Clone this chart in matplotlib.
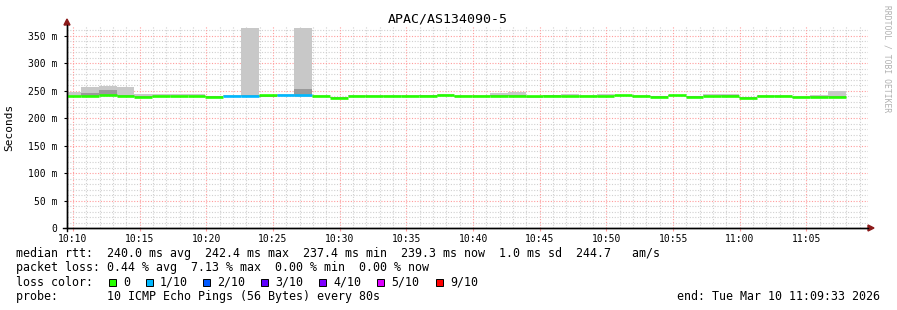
import numpy as np
import matplotlib
matplotlib.use("Agg")
import matplotlib.pyplot as plt
from matplotlib.patches import Rectangle, Polygon
from matplotlib.lines import Line2D

plt.rcParams['font.family'] = ['DejaVu Sans Mono']

# seconds after 10:10:00, one sample every 80 s (first one is partial)
t_start = -27          # 10:09:33
t_end = 3573           # 11:09:33
first_edge = 36        # 10:10:36
step = 80

# median rtt per sample (ms) and lost pings out of 10
median = [240.0, 241.0, 242.4, 240.5, 239.5, 241.0, 240.5, 241.0, 239.5, 241.0,
          240.5, 241.5, 242.0, 242.0, 241.0, 237.4, 241.0, 241.0, 240.5, 241.0,
          241.0, 241.5, 240.5, 240.5, 241.0, 241.0, 240.0, 240.5, 240.5, 240.5,
          240.5, 241.5, 241.0, 239.5, 241.5, 239.5, 240.5, 240.5, 237.6, 240.0,
          240.0, 239.5, 238.5, 239.3]
loss = [0, 0, 0, 0, 0, 0, 0, 0, 0, 1,
        1, 0, 1, 1, 0, 0, 0, 0, 0, 0,
        0, 0, 0, 0, 0, 0, 0, 0, 0, 0,
        0, 0, 0, 0, 0, 0, 0, 0, 0, 0,
        0, 0, 0, 0]
# smoke: full min..max range and the inner (darker) range
smoke_lo = [239, 239, 240, 239, 239, 239, 239, 240, 239, 240,
            239, 239, 240, 239, 240, 237, 240, 238, 238, 240,
            240, 240, 238, 239.5, 240, 240, 237, 239, 238, 239.5,
            239, 240, 238, 238, 240, 238, 239, 239, 237, 239,
            239, 237, 237, 239]
smoke_hi = [248, 256, 259, 256, 244, 245, 245, 244, 241, 242,
            365, 243, 245, 365, 242, 239, 242, 242, 242, 242,
            243, 245, 242, 242, 246, 248, 241, 243, 244, 242,
            245, 243, 242, 241, 243, 241, 244, 245, 239.5, 241.5,
            241.5, 241, 242, 249]
inner_lo = [239, 241, 243, 240, 239, 239.5, 240, 240, 239, 240,
            240, 239, 241, 240, 240, 237, 240, 238.5, 238.5, 240,
            240, 240.5, 238.5, 240, 240, 240.5, 238, 240, 239, 240,
            239.5, 240.5, 239, 238.5, 240.5, 239, 240, 240, 237, 239.5,
            239.5, 237.5, 238, 239]
inner_hi = [241, 246, 252, 242, 240, 240.5, 241, 241, 240, 241,
            242, 240.5, 243, 254, 241, 238, 241, 240, 240, 241,
            241.5, 242, 240, 241, 242, 243, 240, 242, 241, 241,
            241, 242, 240.5, 240, 242, 240, 241, 242, 238, 240.5,
            240.5, 239, 241, 241]

loss_keys = ['0', '1/10', '2/10', '3/10', '4/10', '5/10', '9/10']
loss_colors = ['#26ff00', '#00b8ff', '#0059ff', '#5e00ff', '#7e00ff', '#dd00ff', '#ff0000']
loss_map = {0: '#26ff00', 1: '#00b8ff', 2: '#0059ff', 3: '#5e00ff', 4: '#7e00ff', 5: '#dd00ff', 9: '#ff0000'}

yticks = [0, 50, 100, 150, 200, 250, 300, 350]
ytick_labels = ['0', '50 m', '100 m', '150 m', '200 m', '250 m', '300 m', '350 m']
xticks = list(range(0, 3301, 300))
xtick_labels = ['10:10', '10:15', '10:20', '10:25', '10:30', '10:35',
                '10:40', '10:45', '10:50', '10:55', '11:00', '11:05']

n = len(median)
left = np.concatenate([[t_start], first_edge + step * np.arange(n - 1)])
right = first_edge + step * np.arange(n)
width = right - left

W, H = 897, 310
fig = plt.figure(figsize=(W / 100, H / 100), dpi=100)
fig.patch.set_facecolor('white')

def fx(px):
    return px / W

def fy(py):
    return 1 - py / H

ax = fig.add_axes([fx(67), fy(228), fx(868) - fx(67), fy(26) - fy(228)])
ax.set_xlim(t_start, 3577)
ax.set_ylim(0, 368)

# grid
for t in range(0, 3577, 60):
    if t % 300 == 0:
        continue
    ax.axvline(t, color='#d0d0d0', lw=0.8, ls=(0, (1, 1.5)), zorder=0)
for v in range(10, 368, 10):
    if v % 50 == 0:
        continue
    ax.axhline(v, color='#d0d0d0', lw=0.8, ls=(0, (1, 1.5)), zorder=0)
for t in xticks:
    ax.axvline(t, color='#ff9c9c', lw=0.8, ls=(0, (1, 1.5)), zorder=0.5)
for v in yticks[1:]:
    ax.axhline(v, color='#ff9c9c', lw=0.8, ls=(0, (1, 1.5)), zorder=0.5)

# smoke
sl = np.array(smoke_lo)
sh = np.array(smoke_hi)
il = np.array(inner_lo)
ih = np.array(inner_hi)
ax.bar(left, sh - sl, width=width, bottom=sl, align='edge', color='#c8c8c8', lw=0, zorder=2)
ax.bar(left, ih - il, width=width, bottom=il, align='edge', color='#9a9a9a', lw=0, zorder=3)

# median, coloured by loss
for i in range(n):
    ax.hlines(median[i], left[i], right[i], color=loss_map[loss[i]], lw=1.9, zorder=4)

for s in ['top', 'right']:
    ax.spines[s].set_visible(False)
ax.spines['left'].set_linewidth(1)
ax.spines['bottom'].set_linewidth(1)

ax.set_yticks(yticks)
ax.set_yticklabels(ytick_labels, fontsize=7)
ax.set_xticks(xticks)
ax.set_xticklabels(xtick_labels, fontsize=7)
ax.tick_params(axis='y', length=2, pad=5)
ax.tick_params(axis='x', length=2, pad=2, color='#ff9c9c')
ax.set_ylabel('Seconds', fontsize=8, labelpad=10)

# axis arrows
fig.add_artist(Polygon([[fx(64), fy(25)], [fx(70), fy(25)], [fx(67), fy(19)]],
                       closed=True, color='#8b1a1a', transform=fig.transFigure))
fig.add_artist(Polygon([[fx(868), fy(225)], [fx(868), fy(231)], [fx(874), fy(228)]],
                       closed=True, color='#8b1a1a', transform=fig.transFigure))
fig.add_artist(Line2D([fx(67), fx(67)], [fy(231), fy(25)], color='black', lw=1))
fig.add_artist(Line2D([fx(63), fx(868)], [fy(228), fy(228)], color='black', lw=1))

fig.text(fx(448), fy(19), 'APAC/AS134090-5', fontsize=9.5, ha='center', va='center')
fig.text(fx(887), fy(59), 'RRDTOOL / TOBI OETIKER', fontsize=5.8, color='#b0b0b0',
         rotation=270, ha='center', va='center')

fs = 8.4
fig.text(fx(16), fy(254), 'median rtt:  240.0 ms avg  242.4 ms max  237.4 ms min  239.3 ms now  1.0 ms sd  244.7   am/s',
         fontsize=fs, va='center')
fig.text(fx(16), fy(268), 'packet loss: 0.44 % avg  7.13 % max  0.00 % min  0.00 % now',
         fontsize=fs, va='center')
fig.text(fx(16), fy(282), 'loss color:', fontsize=fs, va='center')
sq_x = [109, 146, 203, 261, 319, 377, 436]
for sx, key, col in zip(sq_x, loss_keys, loss_colors):
    fig.add_artist(Rectangle((fx(sx), fy(285.5)), 7 / W, 7 / H, facecolor=col,
                             edgecolor='black', lw=0.7, transform=fig.transFigure))
    fig.text(fx(sx + 14), fy(282), key, fontsize=fs, va='center')
fig.text(fx(16), fy(296.5), 'probe:       10 ICMP Echo Pings (56 Bytes) every 80s',
         fontsize=fs, va='center')
fig.text(fx(880), fy(296.5), 'end: Tue Mar 10 11:09:33 2026', fontsize=fs, va='center', ha='right')

fig.savefig('out.png', dpi=100)
